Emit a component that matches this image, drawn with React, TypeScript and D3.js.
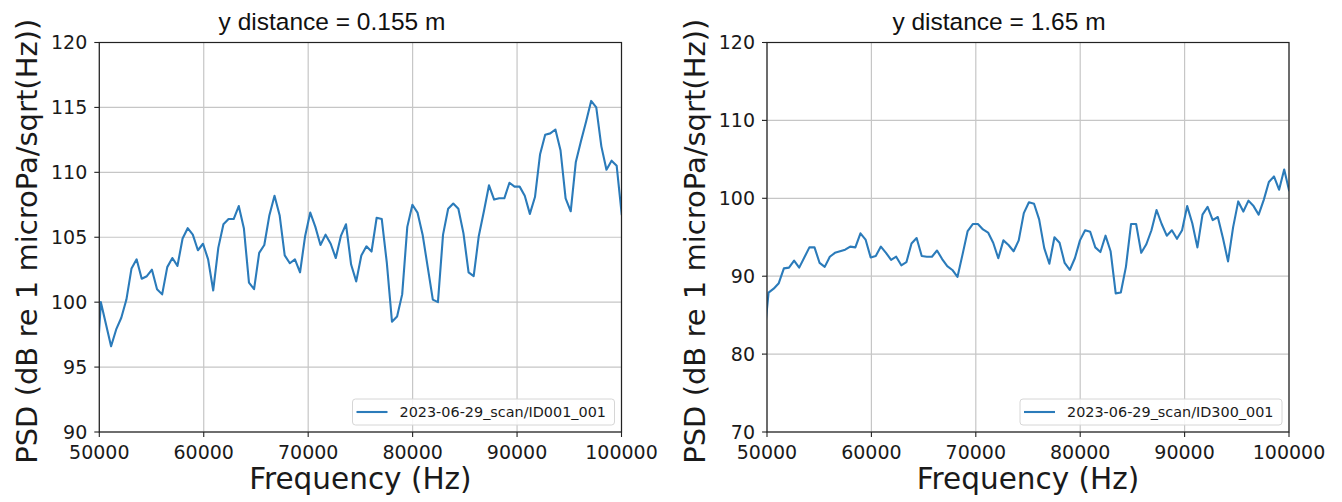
import React from 'react';
import * as d3 from 'd3';

// frequency bins shared by both scans (Hz); first and last fall just outside the axes
const freqHz = [
  49661, 50150, 50639, 51128, 51617, 52106, 52595, 53084, 53573, 54062, 54551,
  55040, 55529, 56018, 56507, 56996, 57485, 57974, 58463, 58952, 59441,
  59930, 60419, 60908, 61397, 61886, 62375, 62864, 63353, 63842, 64331,
  64820, 65309, 65798, 66287, 66776, 67265, 67754, 68243, 68732, 69221,
  69710, 70199, 70688, 71177, 71666, 72155, 72644, 73133, 73622, 74111,
  74600, 75089, 75578, 76067, 76556, 77045, 77534, 78023, 78512, 79001,
  79490, 79979, 80468, 80957, 81446, 81935, 82424, 82913, 83402, 83891,
  84380, 84869, 85358, 85847, 86336, 86825, 87314, 87803, 88292, 88781,
  89270, 89759, 90248, 90737, 91226, 91715, 92204, 92693, 93182, 93671,
  94160, 94649, 95138, 95627, 96116, 96605, 97094, 97583, 98072, 98561,
  99050, 99539, 100028,
];

// PSD, y distance = 0.155 m (ID001_001)
const psdNear = [
  93.5, 100.0, 98.3, 96.6, 97.9, 98.8, 100.2, 102.6, 103.3, 101.8, 102.0,
  102.5, 101.0, 100.6, 102.7, 103.4, 102.8, 104.9, 105.7, 105.2, 104.0,
  104.5, 103.3, 100.9, 104.2, 106.0, 106.4, 106.4, 107.4, 105.7, 101.5,
  101.0, 103.8, 104.4, 106.7, 108.2, 106.7, 103.6, 103.0, 103.3, 102.3,
  105.1, 106.9, 105.8, 104.4, 105.2, 104.5, 103.4, 105.1, 106.0, 102.9,
  101.6, 103.6, 104.3, 103.9, 106.5, 106.4, 103.0, 98.5, 98.9, 100.6,
  105.8, 107.5, 106.9, 105.2, 102.7, 100.2, 100.0, 105.2, 107.2, 107.6,
  107.2, 105.3, 102.3, 102.0, 105.1, 107.0, 109.0, 107.9, 108.0, 108.0,
  109.2, 108.9, 108.9, 108.2, 106.8, 108.1, 111.4, 112.9, 113.0, 113.3,
  111.7, 108.0, 107.0, 110.8, 112.4, 113.9, 115.5, 115.0, 112.0, 110.2,
  110.9, 110.5, 106.7,
];

// PSD, y distance = 1.65 m (ID300_001)
const psdFar = [
  81.2, 87.9, 88.4, 89.1, 91.0, 91.1, 92.0, 91.1, 92.4, 93.7, 93.7,
  91.7, 91.2, 92.5, 93.0, 93.2, 93.4, 93.8, 93.7, 95.5, 94.7,
  92.4, 92.6, 93.8, 93.0, 92.1, 92.5, 91.4, 91.8, 94.2, 94.9,
  92.6, 92.5, 92.5, 93.3, 92.2, 91.3, 90.8, 89.9, 92.8, 95.8,
  96.7, 96.7, 96.0, 95.6, 94.3, 92.3, 94.6, 94.0, 93.2, 94.6,
  98.1, 99.5, 99.3, 97.3, 93.6, 91.6, 95.0, 94.3, 91.7, 90.8,
  92.3, 94.6, 95.9, 95.7, 93.7, 93.1, 95.2, 93.2, 87.8, 87.9,
  91.2, 96.7, 96.7, 93.0, 94.1, 95.9, 98.5, 96.7, 95.2, 95.9,
  94.8, 95.9, 99.0, 96.8, 93.7, 97.9, 98.9, 97.2, 97.6, 94.9,
  91.9, 96.3, 99.6, 98.3, 99.7, 99.0, 97.9, 99.8, 102.1, 102.8,
  101.1, 103.7, 100.9,
];

const xTicks = [50000, 60000, 70000, 80000, 90000, 100000];
const yTicksNear = [90, 95, 100, 105, 110, 115, 120];
const yTicksFar = [70, 80, 90, 100, 110, 120];

const TICK_FONT = 'DejaVu Sans, sans-serif';
const BLUE = '#2b7bba';

function Panel(props) {
  const { id, x0, x1, y0, y1, yDomain, yTicks, values, title, titleX, legendLabel } = props;

  const x = d3.scaleLinear().domain([50000, 100000]).range([x0, x1]);
  const y = d3.scaleLinear().domain(yDomain).range([y1, y0]);

  const line = d3.line()
    .x((d, i) => x(freqHz[i]))
    .y(d => y(d));

  const cx = (x0 + x1) / 2;
  const cy = (y0 + y1) / 2;
  const legW = 262, legH = 26;
  const legX = x1 - 7 - legW;
  const legY = y1 - 7 - legH;

  return (
    <g>
      <defs>
        <clipPath id={'clip-' + id}>
          <rect x={x0} y={y0} width={x1 - x0} height={y1 - y0} />
        </clipPath>
      </defs>

      {/* grid */}
      {xTicks.map(t => (
        <line key={'gx' + t} x1={x(t)} x2={x(t)} y1={y0} y2={y1} stroke="#c6c6c6" strokeWidth={1.2} />
      ))}
      {yTicks.map(t => (
        <line key={'gy' + t} x1={x0} x2={x1} y1={y(t)} y2={y(t)} stroke="#c6c6c6" strokeWidth={1.2} />
      ))}

      <path d={line(values)} fill="none" stroke={BLUE} strokeWidth={2.1}
        strokeLinejoin="round" clipPath={'url(#clip-' + id + ')'} />

      {/* spines */}
      <rect x={x0} y={y0} width={x1 - x0} height={y1 - y0} fill="none" stroke="#222" strokeWidth={1.2} />

      {/* y ticks */}
      {yTicks.map(t => (
        <g key={'ty' + t}>
          <line x1={x0 - 5} x2={x0} y1={y(t)} y2={y(t)} stroke="#222" strokeWidth={1.1} />
          <text x={x0 - 12} y={y(t)} dy="0.36em" textAnchor="end" fontFamily={TICK_FONT}
            fontSize={19} fill="#1a1a1a">{t}</text>
        </g>
      ))}

      {/* x ticks */}
      {xTicks.map(t => (
        <g key={'tx' + t}>
          <line x1={x(t)} x2={x(t)} y1={y1} y2={y1 + 5} stroke="#222" strokeWidth={1.1} />
          <text x={x(t)} y={y1 + 27} textAnchor="middle" fontFamily={TICK_FONT}
            fontSize={19} fill="#1a1a1a">{t}</text>
        </g>
      ))}

      {/* legend */}
      <rect x={legX} y={legY} width={legW} height={legH} rx={3} fill="#fff" fillOpacity={0.85}
        stroke="#d6d6d6" strokeWidth={1} />
      <line x1={legX + 4} x2={legX + 35} y1={legY + legH / 2} y2={legY + legH / 2} stroke={BLUE} strokeWidth={2.1} />
      <text x={legX + 47} y={legY + legH / 2} dy="0.36em" fontFamily={TICK_FONT} fontSize={14.4}
        fill="#1a1a1a">{legendLabel}</text>

      {/* labels */}
      <text x={cx} y={489} textAnchor="middle" fontFamily={TICK_FONT} fontSize={29.5} fill="#1a1a1a">
        Frequency (Hz)
      </text>
      <text transform={`translate(${x0 - 62},${cy + 4}) rotate(-90)`} textAnchor="middle"
        fontFamily={TICK_FONT} fontSize={29} fill="#1a1a1a">
        PSD (dB re 1 microPa/sqrt(Hz))
      </text>
      <text x={titleX} y={29.5} textAnchor="middle" fontFamily="Liberation Sans, Arial, sans-serif"
        fontSize={24.5} fill="#111">{title}</text>
    </g>
  );
}

export default function App() {
  return (
    <div style={{ position: 'absolute', left: 0, top: 0 }}>
      <svg width={1342} height={502} style={{ display: 'block', background: '#fff' }}>
        <Panel id="near" x0={99.3} x1={621.5} y0={42.5} y1={432}
          yDomain={[90, 120]} yTicks={yTicksNear} values={psdNear}
          title="y distance = 0.155 m" titleX={332}
          legendLabel="2023-06-29_scan/ID001_001" />
        <Panel id="far" x0={767} x1={1289} y0={42.5} y1={432}
          yDomain={[70, 120]} yTicks={yTicksFar} values={psdFar}
          title="y distance = 1.65 m" titleX={999}
          legendLabel="2023-06-29_scan/ID300_001" />
      </svg>
    </div>
  );
}
